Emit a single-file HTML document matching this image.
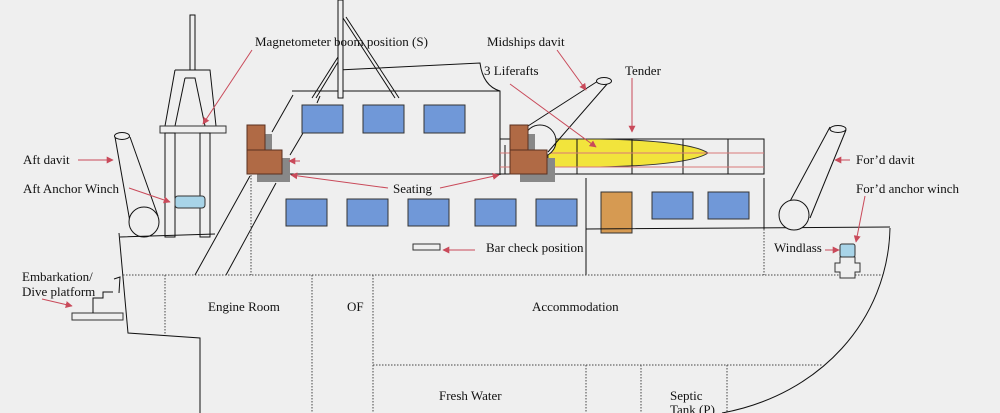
<!DOCTYPE html>
<html><head><style>
html,body{margin:0;padding:0;background:#efefef;}
svg{display:block;}
text{font-family:"Liberation Serif",serif;font-size:13px;fill:#111;}
</style></head><body>
<svg width="1000" height="413" viewBox="0 0 1000 413" xmlns="http://www.w3.org/2000/svg">
<defs>
<marker id="ah" viewBox="0 0 10 10" refX="9" refY="5" markerWidth="7" markerHeight="7" orient="auto-start-reverse"><path d="M0,0 L10,5 L0,10 z" fill="#c94a5a"/></marker>
</defs>
<rect width="1000" height="413" fill="#efefef"/>
<g fill="none" stroke="#111" stroke-width="1">
<rect x="190" y="15" width="5" height="55" fill="#efefef"/>
<path d="M175,70 L210,70 L216,126 M175,70 L165,126 M185,78 L195,78 L205,126 M185,78 L175,126"/>
<rect x="160" y="126" width="66" height="7" fill="#efefef" stroke="#333"/>
<rect x="165" y="133" width="10" height="104" fill="#efefef"/>
<rect x="200" y="133" width="10" height="104" fill="#efefef"/>
<path d="M115,137 L130,222 M130,137 L158,216"/>
<ellipse cx="122" cy="136" rx="7.5" ry="3.5" fill="#efefef"/>
<circle cx="144" cy="222" r="15" fill="#efefef"/>
<path d="M119,233 L128,333 L200,338 L200,413 M120,237 L215,234"/>
<rect x="72" y="313" width="51" height="7" fill="#efefef" stroke="#333"/>
<path d="M93,313 L93,298 L103,298 L103,292 L113,292 M114,279 L120,277 L119,293"/>
<path d="M195,275 L250,176 M226,275 L276,183 M272,132 L293,95 M290,155 L303,133"/>
<path d="M292,91 L500,91 L500,175 M338,70 L480,63 Q483,86 500,91"/>
<path d="M288,174 L500,174"/>
<path d="M343,18 L395,98 M346,17 L399,98 M338,57 L312,98 M338,62 L316,98 M320,96 L317,103"/>
<rect x="338" y="0" width="5" height="98" fill="#efefef"/>
<path d="M500,139 L764,139 L764,174 L500,174 M505,145 L505,174 M510,140 L510,174"/>
</g>
<path d="M548,139 L600,139 Q690,141 708,153 Q690,165 600,167 L548,167 Z" fill="#f2e43c" stroke="#333"/>
<g stroke="#111" fill="none">
<path d="M577,139 L577,174 M632,139 L632,174 M683,139 L683,174 M728,139 L728,174"/>
</g>
<path d="M500,153 L764,153 M500,167 L764,167" stroke="#d97878" stroke-width="1"/>
<g stroke="#111" fill="none">
<circle cx="540" cy="141" r="16" fill="#efefef"/>
<path d="M528,126 L598,81 M548,152 L608,83"/>
<ellipse cx="604" cy="81" rx="7.5" ry="3.5" fill="#efefef"/>
</g>
<g stroke="#5a3020">
<rect x="257" y="134" width="15" height="48" fill="#888" stroke="none"/>
<rect x="257" y="158" width="33" height="24" fill="#888" stroke="none"/>
<rect x="247" y="125" width="18" height="26" fill="#b06a45"/>
<rect x="247" y="150" width="35" height="24" fill="#b06a45"/>
<rect x="520" y="134" width="15" height="48" fill="#888" stroke="none"/>
<rect x="520" y="158" width="35" height="24" fill="#888" stroke="none"/>
<rect x="510" y="125" width="18" height="26" fill="#b06a45"/>
<rect x="510" y="150" width="37" height="24" fill="#b06a45"/>
</g>
<g fill="#7098d8" stroke="#333">
<rect x="302" y="105" width="41" height="28"/>
<rect x="363" y="105" width="41" height="28"/>
<rect x="424" y="105" width="41" height="28"/>
<rect x="286" y="199" width="41" height="27"/>
<rect x="347" y="199" width="41" height="27"/>
<rect x="408" y="199" width="41" height="27"/>
<rect x="475" y="199" width="41" height="27"/>
<rect x="536" y="199" width="41" height="27"/>
<rect x="652" y="192" width="41" height="27"/>
<rect x="708" y="192" width="41" height="27"/>
</g>
<rect x="601" y="192" width="31" height="41" fill="#d69a52" stroke="#333"/>
<g stroke="#111" fill="none">
<path d="M586,178 L586,275 M764,178 L764,229 M586,229 L890,227 M890,228 C888,320 820,395 722,413"/>
</g>
<g stroke="#444" fill="none" stroke-dasharray="1.5,1.5">
<path d="M123,275 L885,275 M165,275 L165,335 M312,275 L312,413 M373,275 L373,413 M251,175 L251,275 M764,229 L764,275 M373,365 L822,365 M586,365 L586,413 M641,365 L641,413 M727,365 L727,413"/>
</g>
<g stroke="#111" fill="none">
<path d="M830,127 L788,205 M846,130 L810,218"/>
<ellipse cx="838" cy="129" rx="8" ry="3.5" fill="#efefef"/>
<circle cx="794" cy="215" r="15" fill="#efefef"/>
</g>
<rect x="175" y="196" width="30" height="12" rx="3" fill="#a8d4e8" stroke="#333"/>
<rect x="840" y="244" width="15" height="13" rx="2" fill="#a8d4e8" stroke="#333"/>
<path d="M840,257 L855,257 L855,263 L860,263 L860,272 L855,272 L855,278 L840,278 L840,272 L835,272 L835,263 L840,263 Z" fill="#efefef" stroke="#333"/>
<rect x="413" y="244" width="27" height="6" fill="#efefef" stroke="#333"/>
<g stroke="#c94a5a" stroke-width="1" fill="none" marker-end="url(#ah)">
<path d="M252,50 L203,124"/>
<path d="M557,50 L586,90"/>
<path d="M510,84 L596,147"/>
<path d="M632,78 L632,132"/>
<path d="M78,160 L113,160"/>
<path d="M129,188 L170,202"/>
<path d="M388,188 L291,175"/>
<path d="M440,188 L499,175"/>
<path d="M300,161 L289,161"/>
<path d="M850,160 L835,160"/>
<path d="M865,196 L856,242"/>
<path d="M475,250 L443,250"/>
<path d="M825,250 L839,250"/>
<path d="M42,299 L72,306"/>
</g>
<text x="255" y="46">Magnetometer boom position (S)</text>
<text x="487" y="46">Midships davit</text>
<text x="484" y="75">3 Liferafts</text>
<text x="625" y="75">Tender</text>
<text x="23" y="164">Aft davit</text>
<text x="23" y="193">Aft Anchor Winch</text>
<text x="393" y="193">Seating</text>
<text x="856" y="164">For’d davit</text>
<text x="856" y="193">For’d anchor  winch</text>
<text x="486" y="252">Bar check position</text>
<text x="774" y="252">Windlass</text>
<text x="22" y="281">Embarkation/</text>
<text x="22" y="296">Dive platform</text>
<text x="208" y="311">Engine Room</text>
<text x="347" y="311">OF</text>
<text x="532" y="311">Accommodation</text>
<text x="439" y="400">Fresh Water</text>
<text x="670" y="400">Septic</text>
<text x="670" y="414">Tank (P)</text>
</svg>
</body></html>
